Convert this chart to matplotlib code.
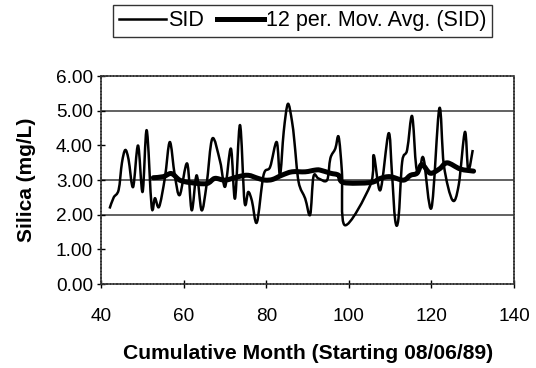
import matplotlib.pyplot as plt
from matplotlib.path import Path
from matplotlib.patches import PathPatch
from matplotlib.lines import Line2D

plt.rcParams['font.family'] = ['Liberation Sans', 'DejaVu Sans']

# SID silica readings (month, mg/L)
sid_month = [42, 43, 44.2, 45, 45.8, 46.6, 47.7, 48.9, 50.0, 51.0, 52.2, 53.0,
             54.0, 55.4, 56.6, 57.8, 59.0, 60.8, 61.9, 63.1, 64.3, 65.5, 66.9,
             68.8, 70.0, 71.4, 72.4, 73.6, 74.7, 75.6, 76.5, 77.7, 79.3, 80.9,
             82.5, 83.3, 84.2, 85.2, 86.2, 86.8, 87.8, 89.4, 90.6, 91.4, 92.6,
             94.7, 95.5, 96.7, 97.5, 98.3, 99.0, 105.2, 106.0, 107.6, 109.6,
             110.4, 111.2, 112.0, 112.9, 114.1, 115.3, 116.3, 117.2, 118.1,
             120.0, 121.9, 123.0, 125.1, 126.6, 128.1, 128.9, 130.0]
sid_value = [2.18, 2.5, 2.72, 3.5, 3.87, 3.6, 2.8, 4.0, 2.66, 4.44, 2.23, 2.48,
             2.23, 3.06, 4.1, 3.14, 2.57, 3.48, 2.13, 3.14, 2.13, 2.86, 4.2,
             3.53, 2.81, 3.91, 2.47, 4.59, 2.37, 2.66, 2.4, 1.78, 3.14, 3.38,
             4.1, 3.14, 4.4, 5.2, 4.7, 4.1, 2.95, 2.47, 2.0, 3.1, 3.05,
             3.0, 3.63, 3.91, 4.25, 3.24, 1.70, 2.86, 3.72, 2.71, 4.35,
             3.24, 1.85, 1.89, 3.53, 3.87, 4.85, 3.38, 3.35, 3.62,
             2.2, 5.07, 3.43, 2.42, 2.86, 4.39, 3.3, 3.87]

# 12 period moving average as drawn
ma_month = [52.6, 55, 57, 59, 61.5, 65.5, 67.5, 70, 73.2, 75.6, 78, 79.7, 81.5,
            83.7, 86.2, 89.4, 91.8, 93, 95.5, 97.5, 98.7, 105.2, 107.6, 110,
            113.2, 114.9, 116.5, 117.7, 119.7, 122, 123.8, 127, 130.2]
ma_value = [3.07, 3.1, 3.19, 3.0, 2.93, 2.9, 3.05, 3.0, 3.1, 3.14, 3.05, 3.0, 3.02,
            3.14, 3.24, 3.24, 3.29, 3.29, 3.2, 3.14, 2.93, 2.93, 3.05, 3.1,
            3.0, 3.14, 3.2, 3.45, 3.2, 3.33, 3.5, 3.32, 3.26]


def smooth_path(xs, ys):
    # excel style smoothed line: bezier segments through every point
    verts = [(xs[0], ys[0])]
    codes = [Path.MOVETO]
    n = len(xs)
    for i in range(n - 1):
        x0, y0 = (xs[i - 1], ys[i - 1]) if i > 0 else (xs[i], ys[i])
        x3, y3 = (xs[i + 2], ys[i + 2]) if i + 2 < n else (xs[i + 1], ys[i + 1])
        c1 = (xs[i] + (xs[i + 1] - x0) / 6, ys[i] + (ys[i + 1] - y0) / 6)
        c2 = (xs[i + 1] - (x3 - xs[i]) / 6, ys[i + 1] - (y3 - ys[i]) / 6)
        verts += [c1, c2, (xs[i + 1], ys[i + 1])]
        codes += [Path.CURVE4] * 3
    return Path(verts, codes)


fig = plt.figure(figsize=(5.36, 3.68), dpi=100)
ax = fig.add_axes([0.189, 0.228, 0.770, 0.565])

for g in [2, 3, 5]:
    ax.axhline(g, color='#555555', linewidth=1.3, zorder=1)

ax.add_patch(PathPatch(smooth_path(sid_month, sid_value), facecolor='none',
                       edgecolor='black', linewidth=1.8, joinstyle='round',
                       zorder=2))
ax.add_patch(PathPatch(smooth_path(ma_month, ma_value), facecolor='none',
                       edgecolor='black', linewidth=3.6, joinstyle='round',
                       capstyle='round', zorder=3))

ax.set_xlim(40, 140)
ax.set_ylim(0, 6)
ax.set_xticks([40, 60, 80, 100, 120, 140])
ax.set_yticks([0, 1, 2, 3, 4, 5, 6])
ax.set_yticklabels(['0.00', '1.00', '2.00', '3.00', '4.00', '5.00', '6.00'])
ax.tick_params(direction='inout', length=6, width=1, labelsize=13.7, pad=3)
ax.tick_params(axis='x', pad=14)

for s in ax.spines.values():
    s.set_linestyle((0, (1.2, 0.8)))
    s.set_linewidth(1.2)
    s.set_color('#333333')

ax.set_xlabel('Cumulative Month (Starting 08/06/89)', fontsize=15.2,
              fontweight='bold', labelpad=14)
ax.set_ylabel('Silica (mg/L)', fontsize=15, fontweight='bold', labelpad=14)

h1 = Line2D([], [], color='black', linewidth=1.8)
h2 = Line2D([], [], color='black', linewidth=3.6)
leg = fig.legend([h1, h2], ['SID', '12 per. Mov. Avg. (SID)'], loc='center',
                 bbox_to_anchor=(0.565, 0.943), ncol=2, frameon=True,
                 fancybox=False, edgecolor='black', fontsize=15.5,
                 handlelength=2.2, handletextpad=0.1, columnspacing=0.6,
                 borderpad=0.25, borderaxespad=0)
leg.get_frame().set_linewidth(1.0)

fig.savefig('out.png', dpi=100)
